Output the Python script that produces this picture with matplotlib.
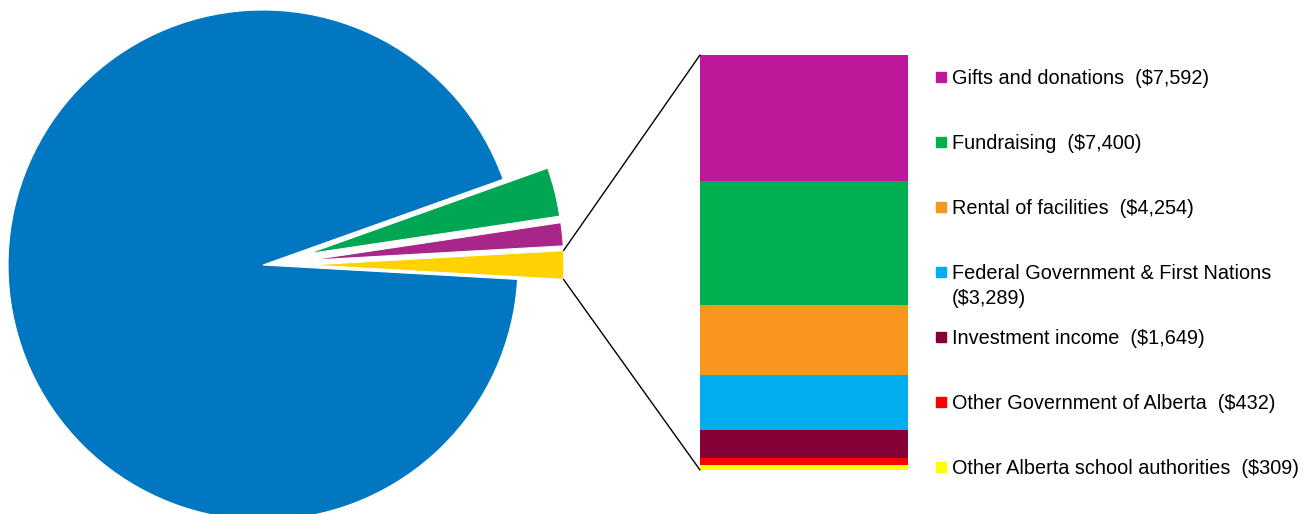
import numpy as np
import matplotlib.pyplot as plt
from matplotlib.patches import ConnectionPatch, Rectangle

# pie slices (thousands): yellow = sum of the bar breakdown
pie_labels = ['Other revenue', 'Sales and services', 'Fees', 'Government of Alberta']
pie_values = [24925, 20300, 43000, 1300000]
pie_colors = ['#FFD200', '#A8258A', '#00A651', '#0077C0']
pie_explode = [0.18, 0.18, 0.18, 0.0]

# breakdown of the yellow slice, bottom to top
bar_labels = ['Other Alberta school authorities', 'Other Government of Alberta',
              'Investment income', 'Federal Government & First Nations\n',
              'Rental of facilities', 'Fundraising', 'Gifts and donations']
bar_values = [309, 432, 1649, 3289, 4254, 7400, 7592]
bar_colors = ['#FFFF00', '#FF0000', '#840037', '#00AEEF', '#F7971E', '#00AF50', '#BF1799']

W, H = 1302, 514
fig = plt.figure(figsize=(W / 100, H / 100), dpi=100)
plt.rcParams['font.family'] = ['Liberation Sans', 'DejaVu Sans']

# pie, centre (263, 265) px, radius 255 px
cx, cy, r = 263, 265, 255
ax1 = fig.add_axes([(cx - r) / W, (H - cy - r) / H, 2 * r / W, 2 * r / H])
small_angle = pie_values[0] / sum(pie_values) * 360
wedges, _ = ax1.pie(pie_values, colors=pie_colors, explode=pie_explode,
                    startangle=-small_angle / 2, counterclock=True,
                    wedgeprops=dict(edgecolor='white', linewidth=0.8))
ax1.set_xlim(-1, 1)
ax1.set_ylim(-1, 1)
ax1.set_aspect('equal')
ax1.axis('off')
for w in wedges:
    w.set_clip_on(False)

# stacked bar, x 700-908 px, y 55-470 px
ax2 = fig.add_axes([700 / W, (H - 470) / H, 208 / W, 415 / H])
total = sum(bar_values)
bottom = 0
for val, col in zip(bar_values, bar_colors):
    ax2.bar(0.5, val, width=1.0, bottom=bottom, color=col, edgecolor='none')
    bottom += val
ax2.set_xlim(0, 1)
ax2.set_ylim(0, total)
ax2.axis('off')

# connector lines from yellow wedge to the bar
yw = wedges[0]
th1, th2 = np.deg2rad(yw.theta1), np.deg2rad(yw.theta2)
ox, oy = yw.center
for th, ybar in [(th2, total), (th1, 0)]:
    con = ConnectionPatch(xyA=(0, ybar), coordsA=ax2.transData,
                          xyB=(ox + np.cos(th), oy + np.sin(th)), coordsB=ax1.transData,
                          color='black', linewidth=1.0)
    fig.add_artist(con)

# legend, top to bottom
for i, (lab, val, col) in enumerate(zip(bar_labels[::-1], bar_values[::-1], bar_colors[::-1])):
    ty = 77 + i * 65
    fig.add_artist(Rectangle((936 / W, 1 - (ty + 5) / H), 10 / W, 10 / H,
                             transform=fig.transFigure, color=col))
    sep = '' if lab.endswith('\n') else '  '
    txt = f'{lab}{sep}(${val:,})'
    fig.text(952 / W, 1 - (ty - 8) / H, txt, fontsize=14.3, va='top', ha='left',
             color='black', linespacing=1.4)

fig.savefig('out.png', dpi=100)
